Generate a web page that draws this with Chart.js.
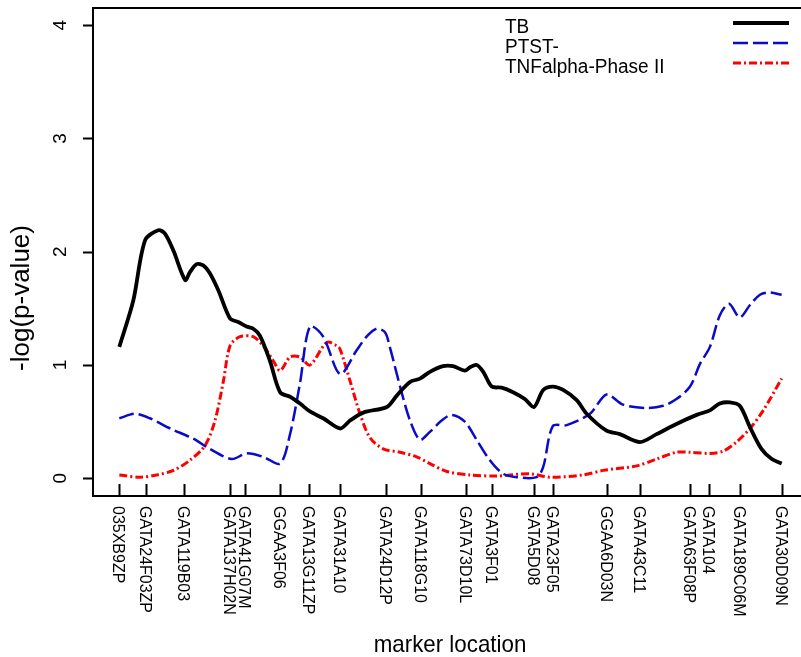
<!DOCTYPE html>
<html>
<head>
<meta charset="utf-8">
<script src="https://cdn.jsdelivr.net/npm/chart.js@4.4.1/dist/chart.umd.min.js"></script>
<style>
  body { margin: 0; background: #fff; }
  #wrap { width: 801px; height: 657px; }
</style>
</head>
<body>
<div id="wrap"><canvas id="grafico" width="801" height="657"></canvas></div>
<script>
// marcadores (posição em cM) e nomes
var markerPos = [0, 7.3, 17.6, 30.1, 34.2, 43.7, 51.6, 60.0, 72.5, 81.9, 94.2, 101.2, 112.8, 117.8, 132.4, 141.5, 155.1, 160.3, 168.6, 180];
var markerNames = ['035XB9ZP', 'GATA24F03ZP', 'GATA119B03', 'GATA137H02N', 'GATA41G07M', 'GGAA3F06', 'GATA13G11ZP', 'GATA31A10',
  'GATA24D12P', 'GATA118G10', 'GATA73D10L', 'GATA3F01', 'GATA5D08', 'GATA23F05', 'GGAA6D03N', 'GATA43C11',
  'GATA63F08P', 'GATA104', 'GATA189C06M', 'GATA30D09N'];
var yTicks = [0, 1, 2, 3, 4];

// TB
var tbPos = [0, 3.8, 7.0, 10.6, 12.4, 14.7, 17.9, 19.2, 21.0, 22.8, 24.6, 26.9, 30.1, 32.3, 34.6, 36.4, 38.2, 40.9, 43.7, 46.4,
  49.1, 51.8, 55.4, 60.0, 62.7, 66.3, 72.7, 75.4, 79.0, 81.7, 84.4, 88.0, 90.7, 93.9, 95.3, 97.1, 98.9, 101.2, 103.9, 107.0,
  110.2, 112.7, 115.2, 117.8, 120.6, 124.3, 127.0, 132.4, 136.0, 141.5, 146.0, 151.4, 156.9, 160.5, 163.2, 165.9, 168.6, 171.4, 174.5, 177.3, 180];
var tbVal = [1.16, 1.57, 2.10, 2.19, 2.16, 2.01, 1.75, 1.82, 1.89, 1.88, 1.81, 1.66, 1.41, 1.38, 1.34, 1.32, 1.26, 1.04, 0.76, 0.72,
  0.66, 0.59, 0.53, 0.44, 0.51, 0.58, 0.63, 0.73, 0.85, 0.88, 0.94, 0.99, 0.99, 0.95, 0.98, 1.00, 0.94, 0.81, 0.80, 0.76,
  0.70, 0.63, 0.78, 0.81, 0.78, 0.69, 0.57, 0.42, 0.39, 0.32, 0.39, 0.48, 0.56, 0.60, 0.66, 0.67, 0.64, 0.45, 0.26, 0.17, 0.13];

// PTST-
var ptstPos = [0, 4.3, 8.3, 13.8, 20.1, 24.6, 30.5, 34.6, 39.1, 43.7, 46.4, 49.1, 51.8, 55.4, 60.0, 64.5, 67.2, 69.9, 72.2, 73.5,
  76.3, 79.0, 81.7, 84.4, 87.6, 90.3, 93.9, 97.1, 100.7, 104.3, 108.0, 113.4, 115.2, 117.8, 121.6, 127.9, 132.4, 136.9, 143.3, 147.8,
  151.4, 155.1, 157.8, 160.5, 163.2, 165.7, 168.6, 171.4, 174.1, 176.8, 180];
var ptstVal = [0.53, 0.57, 0.53, 0.44, 0.35, 0.26, 0.17, 0.22, 0.19, 0.13, 0.39, 0.84, 1.34, 1.25, 0.92, 1.13, 1.25, 1.32, 1.29, 1.16,
  0.81, 0.51, 0.34, 0.41, 0.51, 0.56, 0.50, 0.34, 0.16, 0.04, 0.01, 0.01, 0.10, 0.46, 0.47, 0.57, 0.74, 0.65, 0.62, 0.64,
  0.70, 0.81, 1.01, 1.16, 1.44, 1.54, 1.42, 1.53, 1.62, 1.64, 1.62];

// TNFalpha-Phase II
var tnfPos = [0, 5.6, 10.2, 14.7, 19.2, 23.3, 26.0, 28.3, 30.1, 32.8, 36.4, 39.1, 41.8, 43.7, 46.4, 49.1, 51.8, 56.4, 59.1, 60.0,
  62.7, 65.4, 68.1, 71.7, 76.3, 80.8, 84.4, 89.0, 95.3, 102.5, 111.6, 117.0, 126.1, 131.5, 140.6, 146.0, 151.4, 155.1, 160.5, 164.1,
  167.7, 171.4, 175.0, 180];
var tnfVal = [0.03, 0.01, 0.03, 0.07, 0.16, 0.29, 0.51, 0.86, 1.17, 1.25, 1.25, 1.17, 1.04, 0.95, 1.07, 1.07, 1.00, 1.20, 1.17, 1.14,
  0.86, 0.57, 0.36, 0.26, 0.23, 0.19, 0.13, 0.06, 0.03, 0.02, 0.04, 0.01, 0.03, 0.07, 0.11, 0.17, 0.23, 0.23, 0.22, 0.24,
  0.32, 0.44, 0.60, 0.88];

var seriesNames = ['TB', 'PTST-', 'TNFalpha-Phase II'];
var fonte = '"Liberation Sans", Arial, sans-serif';

function pontos(pos, val) {
  var arr = [];
  for (var i in pos) {
    arr.push({ x: pos[i], y: val[i] });
  }
  return arr;
}

function texto(ctx, s, x, y, size, rot, align, base, sx) {
  ctx.save();
  ctx.translate(x, y);
  ctx.rotate(rot);
  ctx.scale(sx || 1, 1);
  ctx.font = size + 'px ' + fonte;
  ctx.fillStyle = '#000';
  ctx.textAlign = align;
  ctx.textBaseline = base;
  ctx.fillText(s, 0, 0);
  ctx.restore();
}

// eixos no estilo R: caixa, ticks, rótulos e legenda
var eixosR = {
  id: 'eixosR',
  afterDraw: function (chart) {
    var ctx = chart.ctx;
    var a = chart.chartArea;
    var sx = chart.scales.x, sy = chart.scales.y;
    ctx.save();
    ctx.strokeStyle = '#000';
    ctx.lineWidth = 2;
    ctx.beginPath();
    ctx.moveTo(chart.width, a.top);
    ctx.lineTo(a.left, a.top);
    ctx.lineTo(a.left, a.bottom);
    ctx.lineTo(chart.width, a.bottom);
    ctx.stroke();

    // ticks do eixo x (para dentro)
    ctx.beginPath();
    for (var i in markerPos) {
      var px = Math.round(sx.getPixelForValue(markerPos[i])) + 0.5;
      ctx.moveTo(px, a.bottom);
      ctx.lineTo(px, a.bottom - 12);
    }
    // ticks do eixo y (para fora)
    for (var j in yTicks) {
      var py = Math.round(sy.getPixelForValue(yTicks[j])) + 0.5;
      ctx.moveTo(a.left, py);
      ctx.lineTo(a.left - 10, py);
    }
    ctx.stroke();

    for (var i2 in markerPos) {
      texto(ctx, markerNames[i2], sx.getPixelForValue(markerPos[i2]) - 1.5, a.bottom + 10, 16, Math.PI / 2, 'left', 'middle');
    }
    for (var j2 in yTicks) {
      texto(ctx, String(yTicks[j2]), 61, sy.getPixelForValue(yTicks[j2]), 19, -Math.PI / 2, 'center', 'middle');
    }

    texto(ctx, 'marker location', 450, 652, 24, 0, 'center', 'alphabetic', 0.93);
    texto(ctx, '-log(p-value)', 29, 298, 26, -Math.PI / 2, 'center', 'alphabetic');

    // legenda
    var ds = chart.data.datasets;
    for (var k = 0; k < ds.length; k++) {
      texto(ctx, seriesNames[k], 505, 33 + k * 20, 20, 0, 'left', 'alphabetic', 0.95);
      ctx.save();
      ctx.strokeStyle = ds[k].borderColor;
      ctx.lineWidth = ds[k].borderWidth;
      ctx.setLineDash(ds[k].borderDash || []);
      ctx.beginPath();
      ctx.moveTo(733, 23 + k * 20);
      ctx.lineTo(789, 23 + k * 20);
      ctx.stroke();
      ctx.restore();
    }
    ctx.restore();
  }
};

var canvas = document.getElementById('grafico');
var grafico = new Chart(canvas, {
  type: 'line',
  data: {
    datasets: [{
      label: seriesNames[0],
      data: pontos(tbPos, tbVal),
      borderColor: '#000000',
      borderWidth: 3.8,
      pointRadius: 0,
      tension: 0.3,
      fill: false
    }, {
      label: seriesNames[1],
      data: pontos(ptstPos, ptstVal),
      borderColor: '#0a0ac8',
      borderWidth: 2.5,
      borderDash: [15, 5],
      pointRadius: 0,
      tension: 0.3,
      fill: false
    }, {
      label: seriesNames[2],
      data: pontos(tnfPos, tnfVal),
      borderColor: '#ff0000',
      borderWidth: 3,
      borderDash: [8, 3, 2, 3],
      pointRadius: 0,
      tension: 0.3,
      fill: false
    }]
  },
  options: {
    responsive: false,
    animation: false,
    layout: {
      padding: { left: 93, top: 8, right: 0, bottom: 161 }
    },
    scales: {
      x: { type: 'linear', min: -7.15, max: 185.25, display: false },
      y: { type: 'linear', min: -0.156, max: 4.151, display: false }
    },
    plugins: {
      legend: { display: false },
      tooltip: { enabled: false }
    }
  },
  plugins: [eixosR]
});
</script>
</body>
</html>
